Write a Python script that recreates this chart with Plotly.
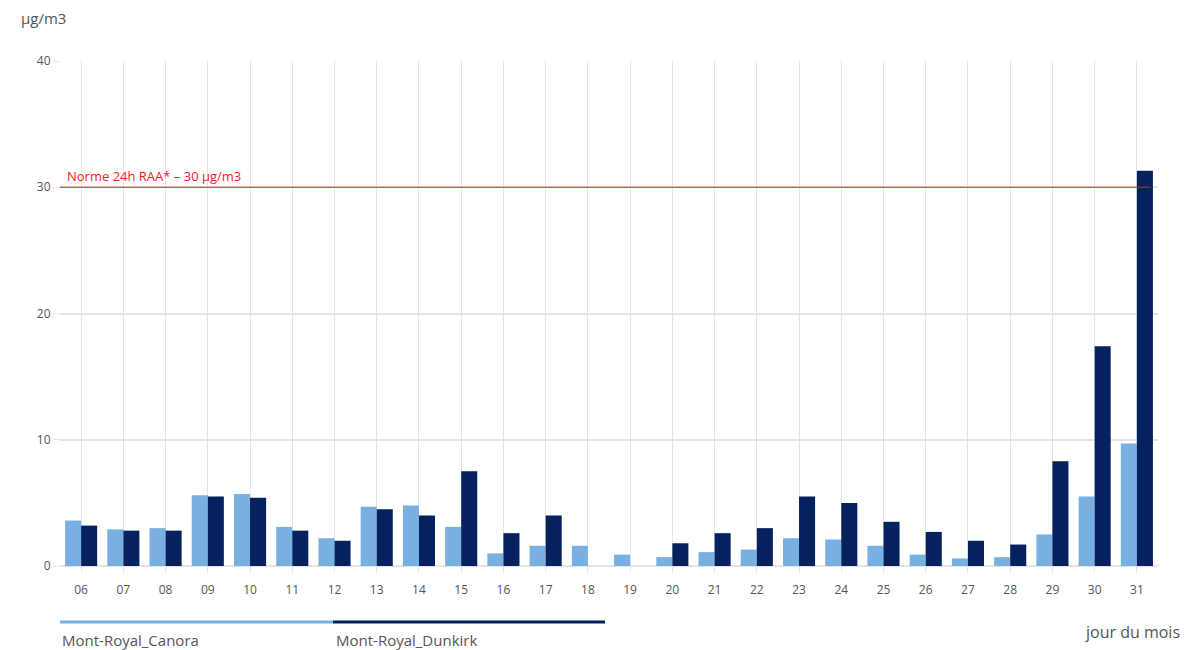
import plotly.graph_objects as go

days = ["06","07","08","09","10","11","12","13","14","15","16","17","18","19",
        "20","21","22","23","24","25","26","27","28","29","30","31"]
canora = [3.6, 2.9, 3.0, 5.6, 5.7, 3.1, 2.2, 4.7, 4.8, 3.1, 1.0, 1.6, 1.6, 0.9,
          0.7, 1.1, 1.3, 2.2, 2.1, 1.6, 0.9, 0.6, 0.7, 2.5, 5.5, 9.7]
dunkirk = [3.2, 2.8, 2.8, 5.5, 5.4, 2.8, 2.0, 4.5, 4.0, 7.5, 2.6, 4.0, None, None,
           1.8, 2.6, 3.0, 5.5, 5.0, 3.5, 2.7, 2.0, 1.7, 8.3, 17.4, 31.3]
series_names = ["Mont-Royal_Canora", "Mont-Royal_Dunkirk"]
norme_value = 30
norme_label = "Norme 24h RAA* – 30 µg/m3"
y_ticks = [0, 10, 20, 30, 40]

LIGHT = "#79b0e2"
DARK = "#05215e"
RED = "#ee1c25"
TXT = "#555555"
FONT = "Open Sans, Noto Sans, sans-serif"

fig = go.Figure()
fig.add_bar(x=days, y=canora, name=series_names[0], marker_color=LIGHT, marker_line_width=0)
fig.add_bar(x=days, y=dunkirk, name=series_names[1], marker_color=DARK, marker_line_width=0)

fig.add_shape(type="line", xref="paper", yref="y", x0=0, x1=0.993,
              y0=norme_value, y1=norme_value, line=dict(color=RED, width=1.2))
fig.add_annotation(xref="paper", yref="y", x=0.005, y=norme_value, text=norme_label,
                   showarrow=False, xanchor="left", yanchor="bottom", yshift=0,
                   font=dict(color=RED, size=13, family=FONT))

# custom legend below the plot
fig.add_shape(type="line", xref="paper", yref="paper", x0=0, x1=0.2486, y0=-0.111, y1=-0.111,
              line=dict(color=LIGHT, width=3))
fig.add_shape(type="line", xref="paper", yref="paper", x0=0.2486, x1=0.4964, y0=-0.111, y1=-0.111,
              line=dict(color=DARK, width=3))
fig.add_annotation(xref="paper", yref="paper", x=0.0, y=-0.1465, text=series_names[0],
                   showarrow=False, xanchor="left", yanchor="middle",
                   font=dict(color=TXT, size=15, family=FONT))
fig.add_annotation(xref="paper", yref="paper", x=0.2495, y=-0.1465, text=series_names[1],
                   showarrow=False, xanchor="left", yanchor="middle",
                   font=dict(color=TXT, size=15, family=FONT))
fig.add_annotation(xref="paper", yref="paper", x=1.022, y=-0.1307, text="jour du mois",
                   showarrow=False, xanchor="right", yanchor="middle",
                   font=dict(color=TXT, size=16, family=FONT))
fig.add_annotation(xref="paper", yref="paper", x=-0.0374, y=1.085, text="µg/m3",
                   showarrow=False, xanchor="left", yanchor="middle",
                   font=dict(color=TXT, size=15, family=FONT))

# page body has an 8px default margin, so the figure is shifted by 8px
fig.update_layout(
    width=1193, height=642,
    margin=dict(l=52, r=43, t=53, b=84),
    paper_bgcolor="white", plot_bgcolor="white",
    barmode="group", bargap=0.24, bargroupgap=0,
    showlegend=False,
    font=dict(family=FONT, color=TXT, size=12),
    xaxis=dict(type="category", range=[-0.5, 25.5], showgrid=True, gridcolor="#e4e4e4",
               gridwidth=1, ticks="outside", ticklen=5, tickcolor="#e4e4e4",
               ticklabelstandoff=8,
               showline=False, zeroline=False, tickfont=dict(size=12, color=TXT)),
    yaxis=dict(range=[0, 40], tickvals=y_ticks, showgrid=True, gridcolor="#e4e4e4",
               gridwidth=1.5, zeroline=True, zerolinecolor="#e4e4e4", zerolinewidth=1.5,
               ticks="outside", ticklen=6, tickcolor="#e4e4e4",
               tickfont=dict(size=12, color=TXT), showline=False),
)

fig.write_html("out.html")
